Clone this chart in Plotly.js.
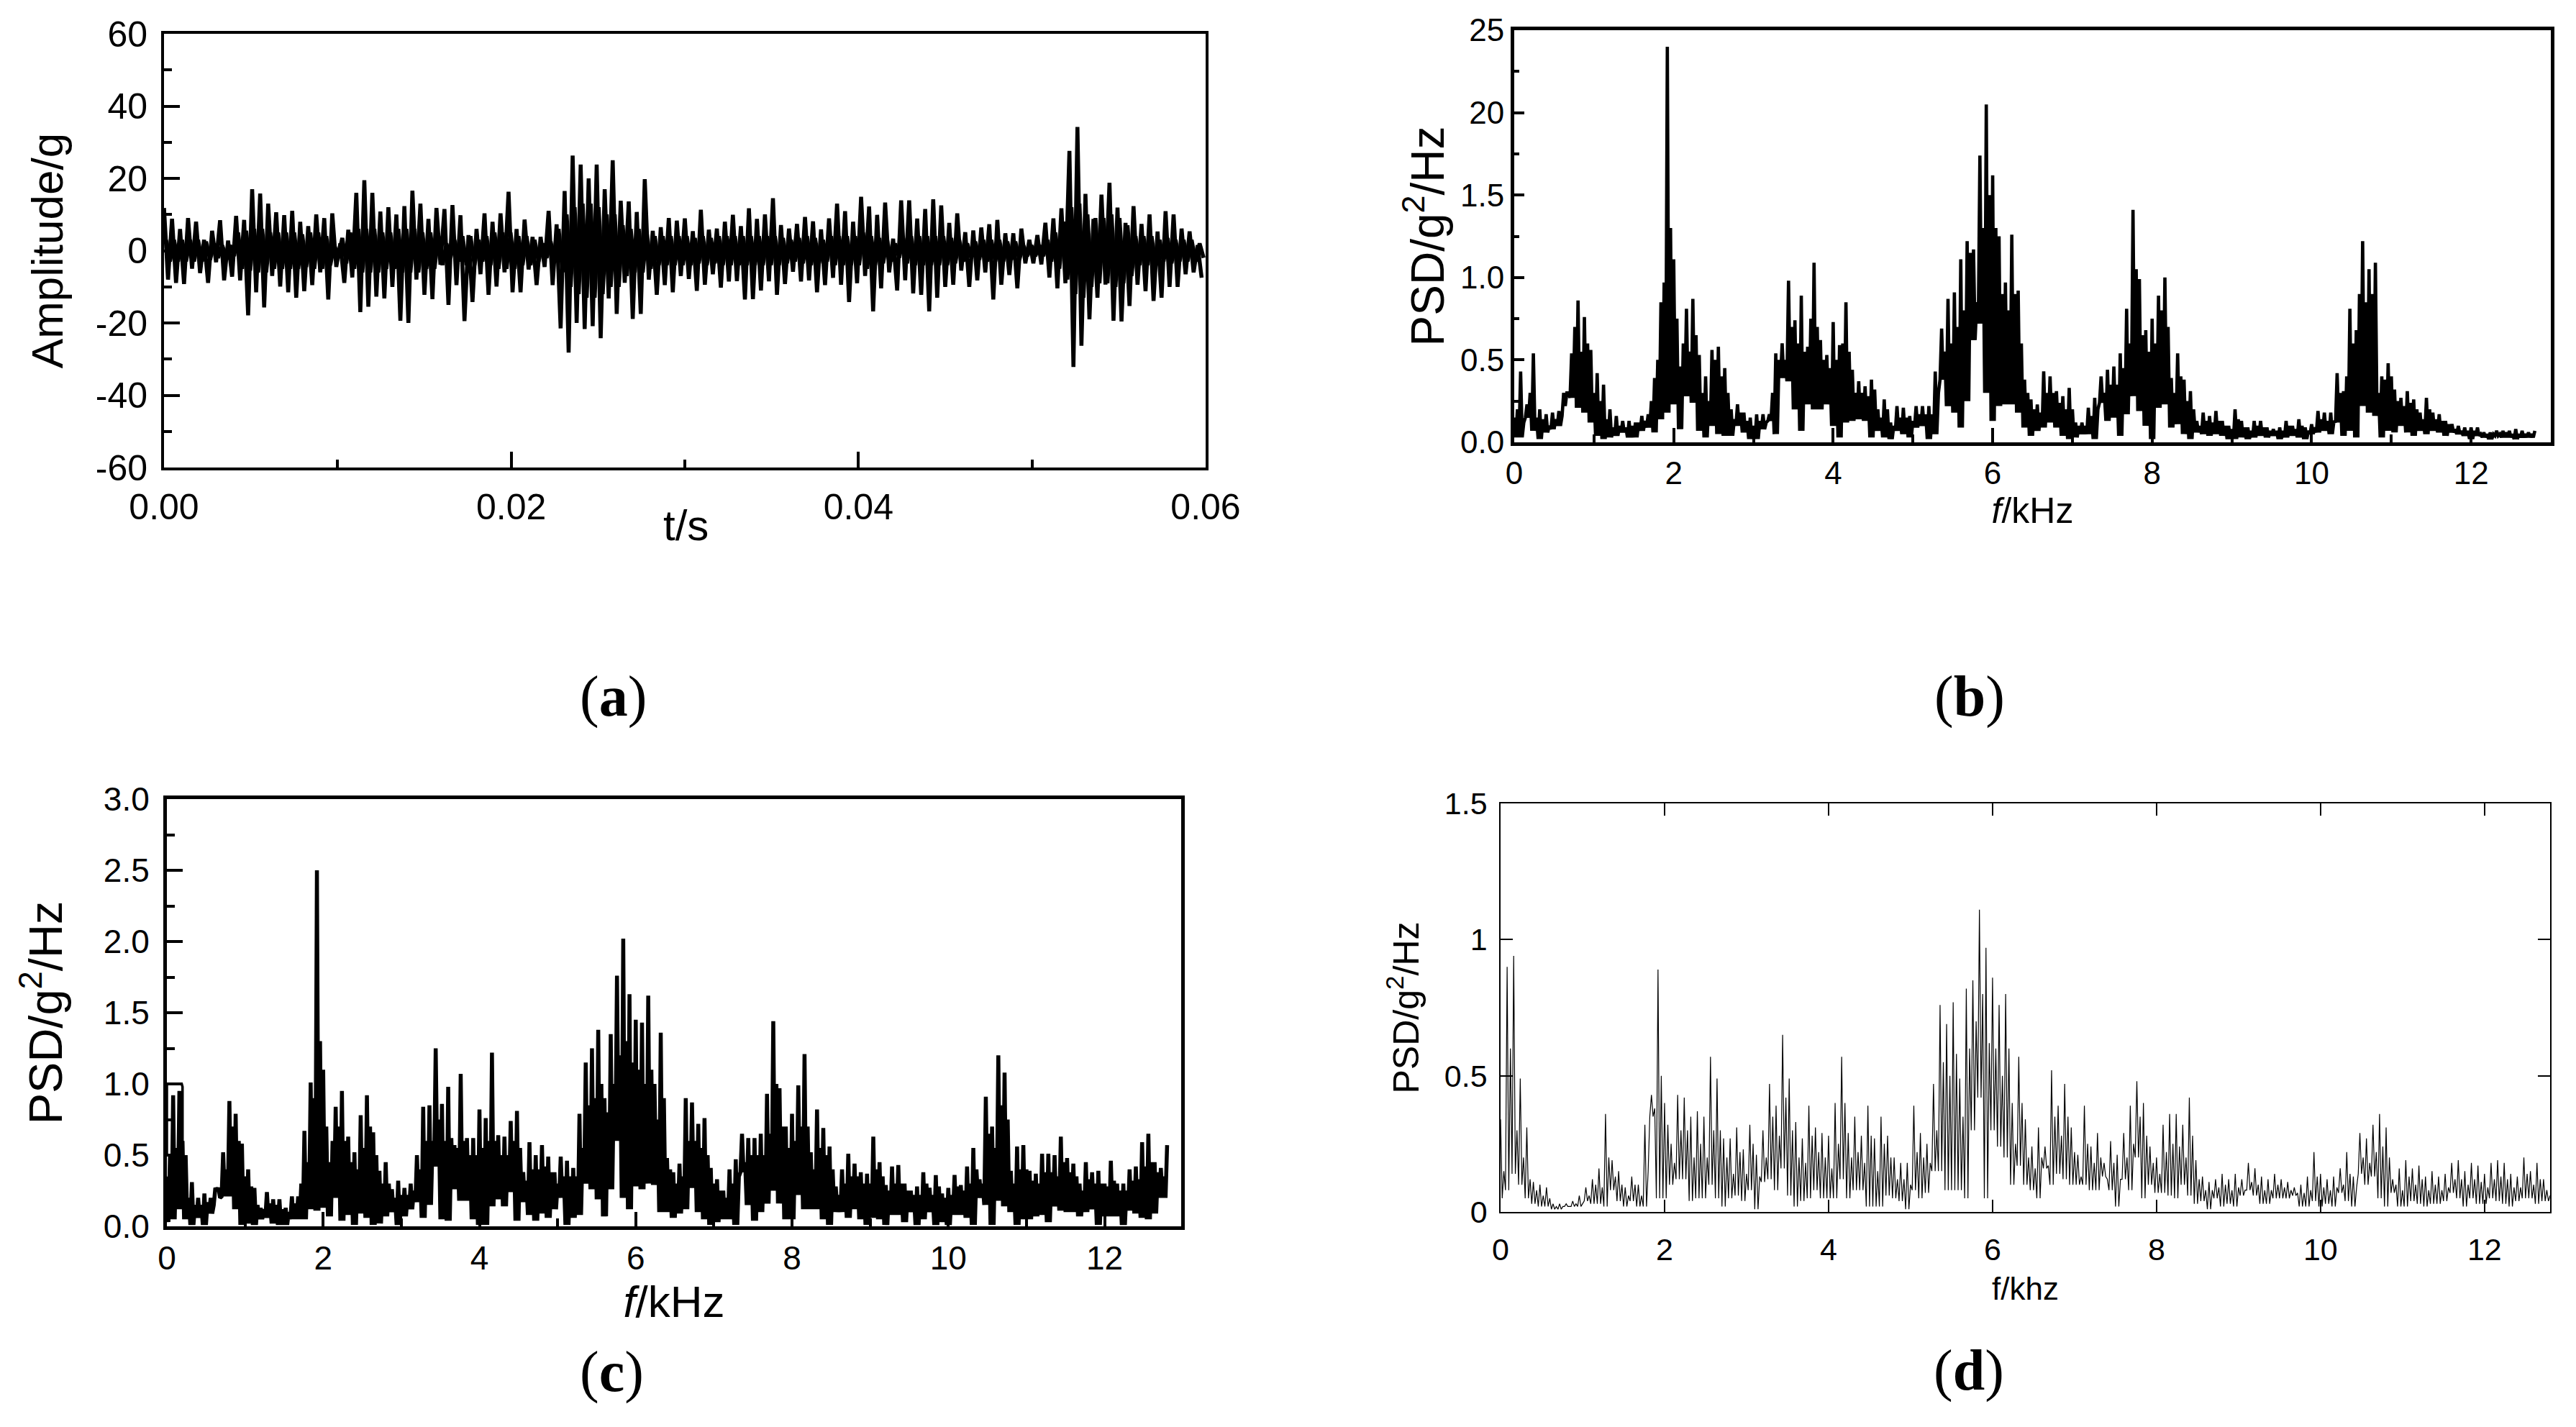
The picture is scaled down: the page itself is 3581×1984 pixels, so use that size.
<!DOCTYPE html>
<html><head><meta charset="utf-8">
<script src="https://cdn.plot.ly/plotly-3.0.1.min.js"></script>
<style>html,body{margin:0;padding:0;background:#fff}</style></head><body><div id="chart"></div>
<script>
// (a) amplitude: upper and lower envelope readings, one pair per step
const ampUp1=[11.8,8.8,6,9,8,3,5.5,8.4,2.8,9.6,8.5,17,15.8,13,10.6,9.8,11,8,6.8,10,9,10.3,2,5.8,16,19.5,16,10.8,12,10,12.3,16.6,13,8.8,11.8,11.5,12.6,9.8,4.3,6,10.3,8,10.3,16.3,6,8.6,3.8,3.8,11,7.3,16.5,26.3,23.8,20,23.8,17,25,13.8,13.6,10.7,19.8,5.5,6.5,9,8.3];
const ampUp2=[8.9,5.4,11.3,5.8,6.1,8,9.9,6.8,11.7,8.8,10,14.5,7.1,6.1,7.4,9.3,8.1,5.9,8.9,13,10.9,8,14.9,12.2,9.9,13.3,3.3,13.9,13.9,8.9,11.5,14.2,12.5,7.7,10.3,5.1,5.6,6.4,7.3,8.5,4.8,4.8,6.1,3,4.3,7.7,8.9,11.7,27.6,34.2,15.7,8.8,15.5,18.8,11.9,7.7,12.3,7.4,10,5.3,10.9,10,6.1,5.3,1.5];
const ampDn1=[-8,-8.9,-9.2,-5,-6.2,-8.9,-3.2,-8.2,-7.2,-8.2,-17.9,-11.5,-15.7,-7,-9.9,-11.5,-13,-11.2,-9.5,-6,-13.5,-4.5,-8.9,-7.4,-17,-15.5,-12.7,-13.2,-10,-19.4,-20,-8,-12.2,-13.4,-3.9,-15,-9.5,-19.5,-14.2,-6.5,-12.2,-9.9,-6,-11.5,-11.5,-5.2,-9.5,-4.5,-9.5,-21.5,-28.2,-20,-21.7,-20.9,-24.2,-13.2,-17.5,-8.9,-18.9,-17.5,-8,-12.2,-9.5,-11.5,-7];
const ampDn2=[-7.8,-11.1,-9.4,-6.5,-10.2,-8.5,-8.4,-13.5,-13.4,-11,-8.5,-12.2,-9.2,-5.8,-8.5,-8.2,-11.5,-9.5,-7.5,-9.4,-14.2,-9,-7,-16.8,-10.4,-6,-11,-8.2,-11.8,-12.2,-16.8,-13,-10,-9.4,-5.5,-10,-8.2,-6,-13.5,-9.4,-6.7,-10.4,-3.5,-3.5,-3.8,-7.4,-10.4,-9,-32.2,-26.3,-19,-13,-9.4,-19.4,-19.6,-15.3,-9.4,-11.2,-13.9,-13,-10,-10,-6.5,-6,-7.5];
// (a) half-height of the solid core around zero
const ampCore1=[3,3,3,3,3,2.5,2,1.5,1.5,5,5.5,6,6,5,5,5,5,4.5,5,5,4,1.5,3.5,5,6,6,6,5,5,6,6,6,5,5,4,2,3,4,4,3,4,5,5,5,4,4,3,2,2.5,6,10,12,13,13,12,10,10,7,6,6,5,4,4,4,4];
const ampCore2=[4,3.5,4,3.5,4,4,4,4,4,4,4,4,3.5,3,3.5,4,3.5,3,4,4,4,4,5,4,3.5,3,2,3.5,4,4,4,4,4,3.5,3,2,2.5,3,3,3,2.5,2.5,1.5,1.5,1.5,3,5,8,12,13,10,9,9,10,9,7,4,4,4,3,3.5,3,3,3,2];
// (b) PSD peaks, troughs, secondary peaks
const psdBTop=[.15,.43,.23,.54,.2,.17,.18,.19,.22,.54,.86,.76,.56,.42,.35,.2,.16,.13,.13,.12,.16,.17,.39,.85,2.4,1.11,.46,.81,.87,.53,.4,.56,.58,.45,.2,.23,.18,.15,.17,.17,.17,.54,.6,.98,.74,.89,.58,1.09,.62,.53,.73,.59,.85,.44,.37,.34,.38,.2,.26,.12,.22,.21,.16,.22,.22,.22,.43,.69,.87,.91,1.11,1.22,1.17,1.74,2.05,1.62,1.25,.97,1.26,.92,.38,.26,.23,.43,.4,.31,.28,.33,.12,.12,.21,.27,.4,.44,.46,.54,.81,1.41,.99,.68,.75,.89,1.0,.39,.54,.38,.31,.13,.18,.16,.19,.13,.1,.2,.13,.09,.13,.13,.09,.08,.09,.13,.1,.14,.09,.11,.19,.18,.18,.42,.31,.81,.68,1.22,1.05,1.09,.4,.48,.32,.27,.31,.26,.18,.27,.18,.17,.13,.11,.1,.09,.09,.09,.06,.06,.07,.07,.07,.08,.07,.06,.07];
const psdBLow=[.03,.03,.15,.07,.02,.06,.08,.1,.3,.27,.21,.18,.12,.04,.02,.03,.04,.06,.03,.03,.07,.09,.06,.14,.18,.23,.08,.28,.24,.07,.03,.1,.05,.04,.04,.1,.06,.02,.02,.08,.13,.05,.39,.37,.2,.07,.23,.2,.2,.23,.1,.03,.12,.13,.14,.13,.03,.07,.03,.02,.07,.05,.03,.09,.1,.02,.05,.38,.22,.18,.09,.25,.62,.72,.3,.13,.22,.23,.23,.18,.09,.04,.07,.09,.12,.09,.04,.02,.03,.05,.05,.02,.24,.13,.15,.04,.17,.28,.19,.1,.02,.21,.23,.09,.11,.05,.02,.06,.05,.04,.05,.04,.02,.02,.03,.02,.03,.04,.03,.04,.02,.03,.04,.03,.02,.05,.06,.07,.05,.12,.04,.07,.03,.22,.18,.16,.03,.07,.06,.1,.06,.04,.07,.05,.07,.06,.04,.06,.05,.04,.02,.04,.03,.02,.04,.03,.03,.02,.03,.03];
const psdBMid=[.2,.12,.3,.15,.14,.1,.14,.16,.3,.7,.55,.6,.3,.25,.14,.09,.1,.09,.1,.12,.13,.25,.5,.97,1.3,.75,.6,.55,.65,.3,.25,.5,.4,.3,.14,.18,.13,.1,.13,.12,.3,.5,.5,.7,.6,.55,.75,.7,.5,.45,.5,.6,.55,.3,.3,.28,.32,.15,.2,.1,.15,.15,.13,.17,.17,.17,.3,.55,.6,.7,.8,1.15,.85,1.3,1.5,1.3,.9,.8,.9,.6,.3,.2,.18,.3,.3,.24,.2,.2,.1,.1,.16,.2,.3,.35,.35,.45,.6,1.05,.65,.55,.6,.8,.7,.3,.4,.25,.2,.1,.13,.12,.13,.1,.08,.14,.09,.07,.1,.09,.07,.07,.07,.1,.08,.1,.07,.09,.14,.13,.13,.3,.4,.6,.9,.85,.9,.3,.38,.4,.25,.22,.24,.2,.14,.2,.14,.13,.11,.08,.07,.07,.07,.05,.05,.05,.05,.06,.05,.05,.05,.05];
// (c) PSD peaks, troughs, secondary peaks
const psdCTop=[.35,.92,.95,.5,.31,.2,.23,.2,.25,.52,.88,.79,.58,.4,.27,.13,.24,.19,.19,.13,.21,.21,.67,1.01,2.5,1.1,.45,.84,.95,.63,.52,.78,.92,.66,.39,.45,.26,.32,.27,.3,.5,.84,.85,1.25,.86,.98,.57,1.07,.62,.62,.82,.76,1.22,.64,.63,.74,.81,.38,.59,.5,.57,.49,.38,.49,.46,.41,.79,1.15,1.25,1.38,.9,1.35,1.76,2.02,1.63,1.45,1.43,1.62,1.0,1.36,.48,.38,.44,.9,.87,.72,.76,.41,.33,.25,.4,.47,.65,.62,.62,.65,.93,1.44,.97,.7,.79,.99,1.21,.52,.82,.69,.56,.28,.4,.51,.44,.38,.37,.63,.45,.29,.42,.43,.3,.25,.28,.38,.27,.36,.23,.27,.36,.29,.42,.55,.33,.91,.7,1.2,1.08,.39,.56,.57,.39,.37,.51,.51,.5,.63,.48,.44,.3,.45,.38,.39,.3,.46,.3,.3,.4,.42,.59,.65,.45,.41,.57];
const psdCLow=[.03,.05,.12,.05,.01,.06,.01,.09,.27,.21,.21,.12,.01,.02,.01,.05,.06,.02,.01,.01,.05,.05,.05,.12,.11,.13,.07,.2,.04,.08,.01,.09,.06,.01,.02,.07,.1,.01,.07,.12,.17,.06,.15,.42,.05,.04,.26,.18,.18,.05,.01,.01,.14,.19,.14,.24,.04,.17,.08,.04,.09,.06,.12,.2,.01,.06,.08,.3,.26,.19,.07,.26,.6,.2,.12,.28,.26,.3,.29,.1,.1,.06,.09,.12,.27,.1,.05,.01,.03,.05,.05,.01,.38,.15,.04,.1,.16,.25,.16,.05,.05,.22,.12,.12,.12,.05,.01,.1,.1,.06,.12,.05,.01,.06,.05,.01,.08,.08,.03,.1,.01,.05,.1,.01,.03,.01,.08,.08,.06,.01,.2,.15,.01,.18,.14,.1,.01,.05,.05,.07,.08,.03,.14,.11,.1,.1,.07,.1,.12,.01,.07,.07,.07,.01,.11,.09,.06,.05,.09,.2];
const psdCMid=[.5,.55,.6,.2,.15,.15,.17,.15,.2,.4,.7,.6,.35,.28,.15,.12,.16,.15,.12,.1,.16,.3,.45,.9,1.3,.7,.6,.7,.6,.45,.4,.55,.7,.5,.3,.3,.2,.22,.22,.25,.4,.6,.6,.75,.6,.62,.55,.6,.5,.5,.55,.6,.6,.5,.5,.6,.55,.32,.4,.4,.42,.38,.3,.35,.35,.35,.55,.85,.9,1.0,.8,1.0,1.2,1.3,1.15,1.1,1.0,1.1,.75,.9,.4,.3,.35,.6,.6,.55,.5,.3,.25,.2,.3,.35,.45,.5,.5,.5,.65,1.0,.7,.55,.6,.7,.7,.4,.55,.5,.4,.22,.3,.35,.35,.3,.3,.4,.35,.25,.3,.3,.25,.22,.22,.3,.22,.28,.2,.22,.28,.25,.3,.4,.3,.65,.55,.85,.75,.3,.4,.4,.32,.3,.38,.38,.35,.45,.38,.35,.25,.33,.3,.3,.28,.32,.25,.25,.32,.33,.42,.45,.38,.35];
const psdCEdgeF=[0,0,.19,.2,.2];
const psdCEdgeV=[.5,1,1,.98,.3];
// (d) PSD peaks, troughs, secondary peaks
const psdDTop=[.34,.9,.94,.49,.31,.11,.1,.09,.03,.03,.03,.04,.06,.09,.12,.16,.36,.19,.15,.09,.13,.1,.32,.43,.89,.4,.25,.43,.42,.35,.37,.35,.57,.49,.27,.27,.31,.23,.32,.21,.3,.47,.39,.65,.49,.33,.27,.39,.31,.29,.28,.4,.57,.29,.35,.28,.39,.27,.35,.28,.2,.18,.18,.39,.29,.25,.47,.76,.69,.77,.49,.82,.85,1.11,.97,.86,.76,.8,.4,.57,.34,.24,.31,.24,.52,.39,.47,.31,.21,.39,.24,.29,.18,.26,.21,.29,.39,.48,.4,.24,.2,.32,.36,.36,.32,.42,.19,.13,.11,.12,.14,.12,.14,.12,.18,.16,.13,.12,.14,.12,.11,.09,.1,.13,.22,.14,.12,.13,.16,.22,.13,.29,.27,.32,.36,.31,.12,.16,.19,.16,.17,.13,.15,.13,.14,.18,.19,.15,.18,.17,.14,.18,.19,.18,.14,.13,.2,.15,.18,.12,.06];
const psdDLow=[.05,.08,.14,.1,.05,.03,.02,.02,.01,.01,.02,.02,.02,.04,.03,.03,.02,.08,.04,.02,.04,.02,.02,.35,.05,.05,.1,.12,.12,.04,.05,.05,.1,.05,.02,.05,.06,.04,.08,.01,.11,.12,.08,.16,.06,.02,.04,.05,.08,.05,.05,.05,.12,.05,.08,.08,.02,.02,.02,.06,.05,.04,.01,.08,.05,.07,.15,.15,.08,.08,.08,.05,.3,.42,.05,.3,.24,.2,.1,.17,.1,.08,.05,.16,.1,.14,.12,.1,.1,.1,.08,.08,.13,.08,.02,.12,.08,.2,.05,.1,.07,.07,.06,.05,.1,.06,.03,.04,.01,.05,.02,.03,.02,.06,.08,.06,.03,.03,.05,.05,.05,.06,.02,.02,.04,.02,.03,.02,.07,.04,.02,.14,.1,.13,.05,.02,.07,.02,.02,.04,.03,.02,.03,.03,.04,.07,.05,.02,.05,.03,.03,.05,.04,.03,.02,.04,.05,.05,.03,.04];
const psdDMid=[.15,.6,.3,.2,.12,.08,.06,.05,.02,.02,.02,.03,.03,.06,.1,.09,.2,.13,.1,.06,.1,.06,.15,.38,.5,.32,.18,.3,.3,.2,.25,.2,.3,.3,.2,.14,.22,.14,.25,.13,.2,.35,.28,.42,.3,.2,.18,.28,.22,.2,.16,.25,.4,.2,.22,.18,.28,.15,.25,.2,.12,.12,.1,.22,.2,.18,.3,.55,.5,.58,.35,.6,.7,.8,.62,.6,.5,.6,.25,.4,.2,.16,.2,.17,.35,.28,.35,.22,.13,.25,.18,.2,.12,.18,.12,.2,.25,.35,.28,.18,.14,.22,.25,.24,.2,.28,.12,.08,.08,.09,.1,.08,.09,.08,.11,.1,.08,.08,.1,.09,.08,.07,.07,.08,.13,.09,.08,.09,.1,.14,.09,.2,.18,.22,.24,.2,.1,.08,.13,.1,.12,.08,.1,.08,.09,.12,.12,.1,.12,.11,.09,.12,.13,.12,.09,.09,.14,.1,.12,.08];
// axes
const ampTicks=[-60,-40,-20,0,20,40,60];
const ampTickText=["-60","-40","-20","0","20","40","60"];
const ampMinor=[-50,-30,-10,10,30,50];
const timeTicks=[0,.02,.04,.06];
const timeTickText=["0.00","0.02","0.04","0.06"];
const timeMinor=[.01,.03,.05];
const freqTicks=[0,2,4,6,8,10,12];
const freqTickText=["0","2","4","6","8","10","12"];
const freqMinor=[1,3,5,7,9,11];
const psdBTicks=[0,.5,1,1.5,2,2.5];
const psdBText=["0.0","0.5","1.0","1.5","20","25"];
const psdBMinor=[.25,.75,1.25,1.75,2.25];
const psdCTicks=[0,.5,1,1.5,2,2.5,3];
const psdCText=["0.0","0.5","1.0","1.5","2.0","2.5","3.0"];
const psdCMinor=[.25,.75,1.25,1.75,2.25,2.75];
const psdDTicks=[0,.5,1,1.5];
const psdDText=["0","0.5","1","1.5"];
const panelLabels=["(<b>a</b>)","(<b>b</b>)","(<b>c</b>)","(<b>d</b>)"];

const W=3581,H=1984,FONT="Liberation Sans, Arial, sans-serif";
function zig(up,dn,step){const x=[],y=[];up.forEach((v,i)=>{x.push(i*step);y.push(v);if(i<dn.length){x.push((i+.5)*step);y.push(dn[i]);}});return {x,y};}
function zig4(top,low,mid,step){const x=[],y=[];top.forEach((v,i)=>{x.push(i*step);y.push(v);if(i<low.length){x.push((i+.25)*step);y.push(low[i]);x.push((i+.5)*step);y.push(mid[i]);x.push((i+.75)*step);y.push(i+1<low.length?low[i+1]:low[i]);}});return {x,y};}
function core(c,step){const x=[],y=[];c.forEach((v,i)=>{x.push((i+.25)*step);y.push(v);x.push((i+.75)*step);y.push(-v);});return {x,y};}
function line(s,xa,ya,w){return {type:'scatter',mode:'lines',x:s.x,y:s.y,xaxis:xa,yaxis:ya,line:{color:'#000',width:w,simplify:false},hoverinfo:'skip',showlegend:false};}
function xAxis(l,r,anchor,o){return Object.assign({domain:[l/W,r/W],anchor,showgrid:false,zeroline:false,showline:true,linecolor:'#000',ticks:'inside',tickcolor:'#000',tickmode:'array',tickfont:{family:FONT,size:44,color:'#000'}},o);}
function yAxis(t,b,anchor,o){return Object.assign({domain:[1-b/H,1-t/H],anchor,showgrid:false,zeroline:false,showline:true,linecolor:'#000',ticks:'inside',tickcolor:'#000',tickmode:'array',tickfont:{family:FONT,size:44,color:'#000'}},o);}
function minor(vals,len,w){return {ticks:'inside',tickmode:'array',tickvals:vals,ticklen:len,tickwidth:w,tickcolor:'#000',showgrid:false};}
function ttl(text,size,standoff){return {text,standoff,font:{family:FONT,size,color:'#000'}};}

const data=[
 line(zig(ampUp1.concat(ampUp2),ampDn1.concat(ampDn2),.06/130),'x','y',5.5),
 line(core(ampCore1.concat(ampCore2),.06/130),'x','y',5.5),
 line(zig4(psdBTop,psdBLow,psdBMid,.08),'x2','y2',4.6),
 line(zig4(psdCTop,psdCLow,psdCMid,.08),'x3','y3',5.5),
 line({x:psdCEdgeF,y:psdCEdgeV},'x3','y3',3.5),
 line(zig4(psdDTop,psdDLow,psdDMid,.08),'x4','y4',1.2)
];
const FA={family:FONT,size:50,color:'#000'}, FC={family:FONT,size:46,color:'#000'}, FD={family:FONT,size:43,color:'#000'};
const layout={
 width:W,height:H,margin:{l:0,r:0,t:0,b:0},paper_bgcolor:'#fff',plot_bgcolor:'#fff',showlegend:false,
 xaxis:xAxis(228,1676,'y',{range:[0,.06],tickvals:timeTicks,ticktext:timeTickText,tickfont:FA,linewidth:4,mirror:true,ticklen:22,tickwidth:4,minor:minor(timeMinor,11,4),ticklabelstandoff:8}),
 yaxis:yAxis(47,650,'x',{range:[-60,60],tickvals:ampTicks,ticktext:ampTickText,tickfont:FA,linewidth:4,mirror:true,ticklen:22,tickwidth:4,minor:minor(ampMinor,11,4),ticklabelstandoff:9,title:ttl('Amplitude/g',62,26)}),
 xaxis2:xAxis(2105,3546,'y2',{range:[0,13],tickvals:freqTicks,ticktext:freqTickText,linewidth:5,mirror:true,ticklen:20,tickwidth:4,minor:minor(freqMinor,11,4),ticklabelstandoff:0,title:ttl('<i>f</i>/kHz',50,0)}),
 yaxis2:yAxis(42,615,'x2',{range:[0,2.5],tickvals:psdBTicks,ticktext:psdBText,linewidth:5,mirror:true,ticklen:14,tickwidth:4,minor:minor(psdBMinor,7,4),ticklabelstandoff:0,title:ttl('PSD/g<sup>2</sup>/Hz',64,3)}),
 xaxis3:xAxis(232,1642,'y3',{range:[0,12.98],tickvals:freqTicks,ticktext:freqTickText,tickfont:FC,linewidth:5,mirror:true,ticklen:20,tickwidth:4,minor:minor(freqMinor,11,4),ticklabelstandoff:0,title:ttl('<i>f</i>/kHz',62,0)}),
 yaxis3:yAxis(1111,1705,'x3',{range:[0,3],tickvals:psdCTicks,ticktext:psdCText,tickfont:FC,linewidth:5,mirror:true,ticklen:22,tickwidth:4,minor:minor(psdCMinor,11,4),ticklabelstandoff:10,title:ttl('PSD/g<sup>2</sup>/Hz',65,38)}),
 xaxis4:xAxis(2086,3545,'y4',{range:[0,12.8],tickvals:freqTicks,ticktext:freqTickText,tickfont:FD,linewidth:2,mirror:'ticks',ticklen:17,tickwidth:1.5,ticklabelstandoff:13,title:ttl('f/khz',44,17)}),
 yaxis4:yAxis(1117,1685,'x4',{range:[0,1.5],tickvals:psdDTicks,ticktext:psdDText,tickfont:FD,linewidth:1.5,mirror:'ticks',ticklen:17,tickwidth:1.5,ticklabelstandoff:8,title:ttl('PSD/g<sup>2</sup>/Hz',50,19)}),
 annotations:[[852,968],[2738,968],[850,1907],[2737,1905]].map((p,i)=>({xref:'paper',yref:'paper',x:p[0]/W,y:1-p[1]/H,text:panelLabels[i],showarrow:false,xanchor:'center',yanchor:'middle',font:{family:'Liberation Serif, serif',size:80,color:'#000'}})).concat([
  {xref:'paper',yref:'paper',x:953/W,y:1-730/H,text:'t/s',showarrow:false,xanchor:'center',yanchor:'middle',font:{family:FONT,size:60,color:'#000'}}])
};
Plotly.newPlot('chart',data,layout,{displayModeBar:false,responsive:false});
</script></body></html>
